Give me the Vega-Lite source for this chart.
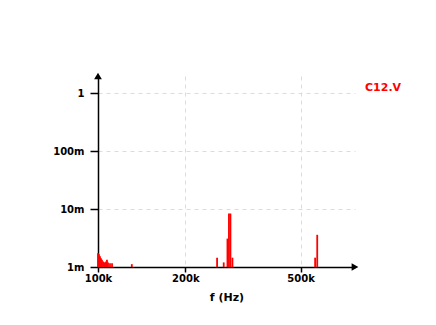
{
  "$schema": "https://vega.github.io/schema/vega-lite/v6.json",
  "width": 257,
  "height": 191,
  "autosize": {"type": "none"},
  "padding": {"left": 98, "top": 76, "right": 81, "bottom": 58},
  "background": "white",
  "config": {
    "view": {"stroke": null},
    "font": "DejaVu Sans",
    "axis": {
      "labelFont": "DejaVu Sans",
      "labelFontWeight": "bold",
      "labelFontSize": 10,
      "labelColor": "black",
      "titleFont": "DejaVu Sans",
      "titleFontWeight": "bold",
      "titleFontSize": 11,
      "titleColor": "black",
      "domainColor": "black",
      "domainWidth": 1.5,
      "tickColor": "black",
      "tickWidth": 1.5,
      "gridColor": "#dcdcdc",
      "gridDash": [4, 4],
      "gridWidth": 1,
      "zindex": 1
    }
  },
  "datasets": {
    "spectrum": [
      {"f": 100000, "v": 0.00173, "trace": "C12.V"},
      {"f": 100800, "v": 0.00166, "trace": "C12.V"},
      {"f": 101600, "v": 0.00153, "trace": "C12.V"},
      {"f": 102400, "v": 0.00141, "trace": "C12.V"},
      {"f": 103200, "v": 0.00133, "trace": "C12.V"},
      {"f": 104100, "v": 0.00125, "trace": "C12.V"},
      {"f": 104900, "v": 0.0012, "trace": "C12.V"},
      {"f": 105700, "v": 0.0012, "trace": "C12.V"},
      {"f": 106600, "v": 0.00125, "trace": "C12.V"},
      {"f": 107400, "v": 0.00133, "trace": "C12.V"},
      {"f": 108300, "v": 0.0012, "trace": "C12.V"},
      {"f": 110000, "v": 0.00116, "trace": "C12.V"},
      {"f": 111800, "v": 0.00116, "trace": "C12.V"},
      {"f": 130800, "v": 0.00112, "trace": "C12.V"},
      {"f": 257500, "v": 0.00145, "trace": "C12.V"},
      {"f": 271400, "v": 0.0012, "trace": "C12.V"},
      {"f": 279600, "v": 0.0031, "trace": "C12.V"},
      {"f": 282900, "v": 0.0084, "trace": "C12.V"},
      {"f": 286300, "v": 0.0084, "trace": "C12.V"},
      {"f": 290900, "v": 0.00145, "trace": "C12.V"},
      {"f": 561000, "v": 0.00145, "trace": "C12.V"},
      {"f": 570400, "v": 0.0036, "trace": "C12.V"}
    ],
    "yarrow": [{"f": 100000, "v": 2}],
    "xarrow": [{"f": 770000, "v": 0.001}]
  },
  "layer": [
    {
      "data": {"name": "spectrum"},
      "mark": {"type": "rule", "strokeWidth": 1.8},
      "encoding": {
        "x": {
          "field": "f",
          "type": "quantitative",
          "scale": {"type": "log", "domain": [100000, 770000], "nice": false},
          "axis": {
            "values": [100000, 200000, 500000],
            "labelExpr": "round(datum.value/1000) + 'k'",
            "title": "f (Hz)",
            "tickSize": 5,
            "labelPadding": 1,
            "titlePadding": 8,
            "labelFlush": false
          }
        },
        "y": {
          "field": "v",
          "type": "quantitative",
          "scale": {"type": "log", "domain": [0.001, 2], "nice": false},
          "axis": {
            "values": [0.001, 0.01, 0.1, 1],
            "labelExpr": "datum.value >= 1 ? '1' : round(datum.value*1000) + 'm'",
            "title": null,
            "tickSize": 8,
            "labelPadding": 6,
            "labelFlush": false
          }
        },
        "y2": {"datum": 0.001},
        "color": {
          "field": "trace",
          "type": "nominal",
          "scale": {"domain": ["C12.V"], "range": ["#ff0000"]},
          "legend": {
            "orient": "none",
            "legendX": 256,
            "legendY": 6,
            "title": null,
            "symbolOpacity": 0,
            "symbolSize": 0,
            "symbolStrokeWidth": 0,
            "labelOffset": 0,
            "labelColor": "#ff0000",
            "labelFont": "DejaVu Sans",
            "labelFontWeight": "bold",
            "labelFontSize": 11
          }
        }
      }
    },
    {
      "data": {"name": "yarrow"},
      "mark": {"type": "point", "shape": "triangle-up", "filled": true, "color": "black", "size": 60, "opacity": 1},
      "encoding": {
        "x": {"field": "f", "type": "quantitative"},
        "y": {"field": "v", "type": "quantitative"}
      }
    },
    {
      "data": {"name": "xarrow"},
      "mark": {"type": "point", "shape": "triangle-right", "filled": true, "color": "black", "size": 60, "opacity": 1},
      "encoding": {
        "x": {"field": "f", "type": "quantitative"},
        "y": {"field": "v", "type": "quantitative"}
      }
    }
  ]
}
